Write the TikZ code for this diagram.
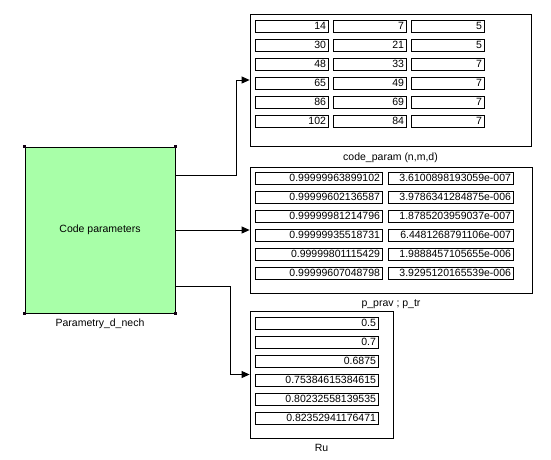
\documentclass[tikz,border=0pt]{standalone}
\usepackage{fontspec}
\setmainfont{Liberation Sans}
\usetikzlibrary{arrows.meta,positioning}
\definecolor{blockgreen}{RGB}{168,255,168}
\tikzset{
  field/.style={draw, line width=0.7pt, text width=#1, align=right, inner xsep=2pt, inner ysep=0pt,
    text height=7.5pt, text depth=1.5pt, minimum height=12pt},
  scopebox/.style={draw, line width=0.8pt, inner sep=0pt},
  handle/.style={fill=black!85!violet, minimum size=3.5pt, inner sep=0pt},
  wire/.style={draw, line width=0.8pt, -{Triangle[length=8pt,width=7pt]}},
  lab/.style={inner sep=0pt}
}
\begin{document}
\begin{tikzpicture}[x=1pt, y=-1pt, font=\fontsize{10.5}{12}\selectfont]
\useasboundingbox (0,0) rectangle (551,459);
% source block
\node[draw, line width=0.8pt, fill=blockgreen, minimum width=150, minimum height=166] (blk) at (100,230) {Code parameters};
\node[handle] (hnw) at (blk.north west) {};
\node[handle] (hne) at (blk.north east) {};
\node[handle] (hsw) at (blk.south west) {};
\node[handle] (hse) at (blk.south east) {};
\node[lab, below=5pt of blk] (blkname) {Parametry\_d\_nech};
\coordinate (o1) at (175,175);
\coordinate (o2) at (175,230);
\coordinate (o3) at (175,286);
% display code_param
\node[scopebox, minimum width=281, minimum height=132] (cp) at (390.5,80) {};
\node[lab, below=6pt of cp] (cpname) {code\_param (n,m,d)};
\node[field=69pt] (cp11) at (291.5,26) {14};
\node[field=69pt] (cp12) at (369.5,26) {7};
\node[field=69pt] (cp13) at (447.5,26) {5};
\node[field=69pt] (cp21) at (291.5,45) {30};
\node[field=69pt] (cp22) at (369.5,45) {21};
\node[field=69pt] (cp23) at (447.5,45) {5};
\node[field=69pt] (cp31) at (291.5,64) {48};
\node[field=69pt] (cp32) at (369.5,64) {33};
\node[field=69pt] (cp33) at (447.5,64) {7};
\node[field=69pt] (cp41) at (291.5,83) {65};
\node[field=69pt] (cp42) at (369.5,83) {49};
\node[field=69pt] (cp43) at (447.5,83) {7};
\node[field=69pt] (cp51) at (291.5,102) {86};
\node[field=69pt] (cp52) at (369.5,102) {69};
\node[field=69pt] (cp53) at (447.5,102) {7};
\node[field=69pt] (cp61) at (291.5,121) {102};
\node[field=69pt] (cp62) at (369.5,121) {84};
\node[field=69pt] (cp63) at (447.5,121) {7};
% display p_prav ; p_tr
\node[scopebox, minimum width=282, minimum height=126] (pp) at (391,230) {};
\node[lab, below=6pt of pp] (ppname) {p\_prav ; p\_tr};
\node[field=123pt] (pp11) at (318.5,178.5) {0.99999963899102};
\node[field=121pt] (pp12) at (450.5,178.5) {3.6100898193059e-007};
\node[field=123pt] (pp21) at (318.5,197.5) {0.99999602136587};
\node[field=121pt] (pp22) at (450.5,197.5) {3.9786341284875e-006};
\node[field=123pt] (pp31) at (318.5,216.5) {0.99999981214796};
\node[field=121pt] (pp32) at (450.5,216.5) {1.8785203959037e-007};
\node[field=123pt] (pp41) at (318.5,235.5) {0.99999935518731};
\node[field=121pt] (pp42) at (450.5,235.5) {6.4481268791106e-007};
\node[field=123pt] (pp51) at (318.5,254.5) {0.99999801115429};
\node[field=121pt] (pp52) at (450.5,254.5) {1.9888457105655e-006};
\node[field=123pt] (pp61) at (318.5,273.5) {0.99999607048798};
\node[field=121pt] (pp62) at (450.5,273.5) {3.9295120165539e-006};
% display Ru
\node[scopebox, minimum width=143, minimum height=127] (ru) at (321.5,374.5) {};
\node[lab, below=6pt of ru] (runame) {Ru};
\node[field=119pt] (ru1) at (316.5,323.5) {0.5};
\node[field=119pt] (ru2) at (316.5,342.5) {0.7};
\node[field=119pt] (ru3) at (316.5,361.5) {0.6875};
\node[field=119pt] (ru4) at (316.5,380.5) {0.75384615384615};
\node[field=119pt] (ru5) at (316.5,399.5) {0.80232558139535};
\node[field=119pt] (ru6) at (316.5,418.5) {0.82352941176471};
% signal lines
\path[wire] (o1) -- ++(61,0) |- (cp.west);
\path[wire] (o2) -- (pp.west);
\path[wire] (o3) -- ++(55,0) |- (ru.west);
\end{tikzpicture}
\end{document}
